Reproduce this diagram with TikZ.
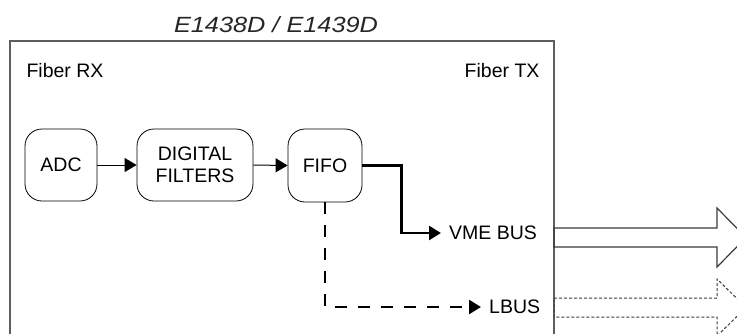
\documentclass[tikz,border=0pt]{standalone}
\usepackage{fontspec}
\setmainfont{Liberation Sans}
\usepackage{xcolor}
\usepackage{graphicx}
\usetikzlibrary{positioning, arrows.meta, calc}
\definecolor{frame}{HTML}{5E5E5E}
\definecolor{bus}{HTML}{3A3A3A}

\begin{document}
\begin{tikzpicture}[
  font=\fontsize{19.5}{22}\selectfont,
  blk/.style={rounded corners=17pt, draw=black, line width=0.8pt, fill=white,
              inner sep=0pt, align=center},
  lbl/.style={inner xsep=8pt, inner ysep=0pt, anchor=west},
  arr/.style={-{Triangle[length=12pt, width=14pt]}, line width=1pt},
  arrBold/.style={-{Triangle[length=12pt, width=14pt]}, line width=2.6pt},
  arrDash/.style={arrBold, dash pattern=on 12pt off 11pt},
  fat/.style={draw=bus, line width=1.2pt, line join=miter}
]
\clip (0,0) rectangle (737pt,-333pt);
% Card outline (bottom runs off the page)
\draw[frame, line width=1.3pt] (10pt,-345pt) -- (10pt,-41pt) -- (554pt,-41pt) -- (554pt,-345pt);
\node[anchor=base, font=\fontsize{22}{24}\selectfont\itshape, color=black!85]
  (title) at (276pt,-32pt) {\scalebox{1.15}[1]{E1438D / E1439D}};
\node[anchor=base west] (rx) at (23pt,-77pt) {Fiber RX};
\node[anchor=base east] (tx) at (543pt,-77pt) {Fiber TX};
% Processing chain
\node[blk, minimum width=72pt, minimum height=72pt] (adc) at (61pt,-165pt) {ADC};
\node[blk, minimum width=116pt, minimum height=72pt] (filt) at (195pt,-165pt)
  {DIGITAL\\FILTERS};
\node[blk, minimum width=74pt, minimum height=73pt] (fifo) at (325pt,-165.5pt) {FIFO};
\draw[arr] (adc.east) -- (filt.west);
\draw[arr] (filt.east) -- (fifo.west);
% Bus outputs
\node[lbl] (vme) at (441pt,-233pt) {VME BUS};
\node[lbl] (lbus) at (481pt,-307pt) {LBUS};
\draw[arrBold] (fifo.east) -- ++(39pt,0) |- (vme.west);
\draw[arrDash] (fifo.south) |- (lbus.west);
% Wide arrows leaving the card
\draw[fat] (554pt,-228pt) -- (717pt,-228pt) -- (717pt,-208pt) -- (746pt,-237.5pt)
  -- (717pt,-267pt) -- (717pt,-247pt) -- (554pt,-247pt) -- cycle;
\draw[fat, line width=1pt, dash pattern=on 3pt off 2pt] (554pt,-298pt) -- (717pt,-298pt)
  -- (717pt,-279pt) -- (746pt,-307.5pt) -- (717pt,-336pt) -- (717pt,-317pt)
  -- (554pt,-317pt) -- cycle;
\end{tikzpicture}
\end{document}
